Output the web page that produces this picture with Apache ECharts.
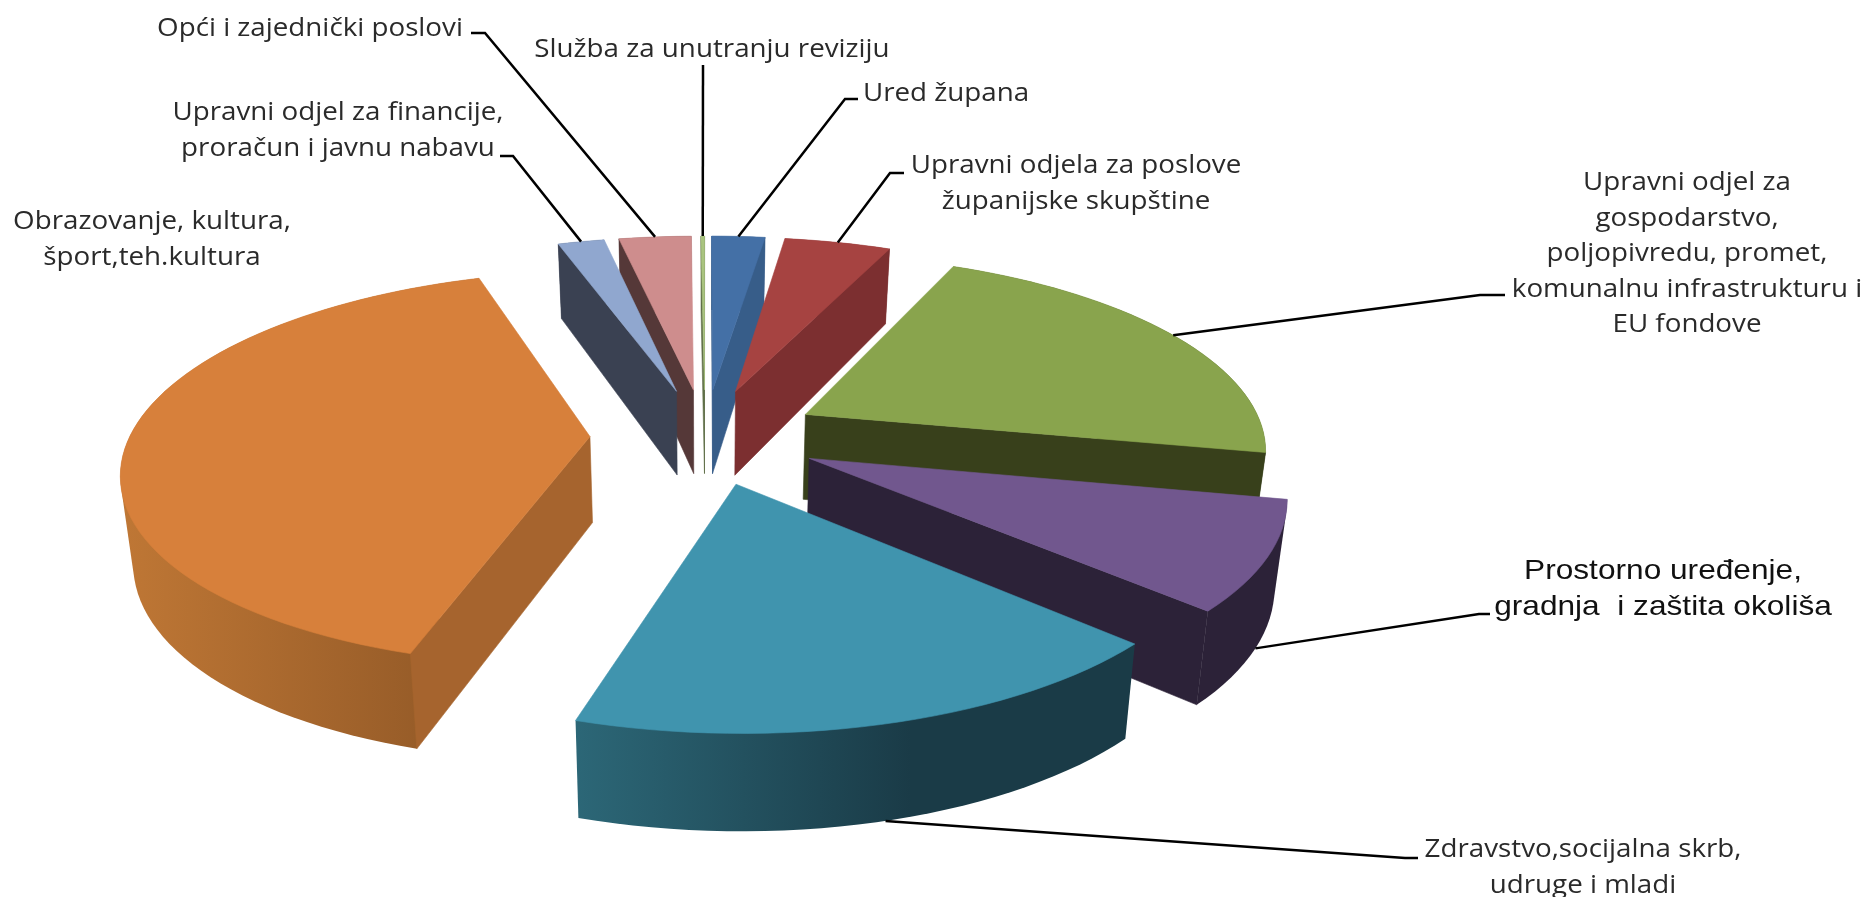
<!DOCTYPE html>
<html>
<head>
<meta charset="utf-8">
<style>html,body{margin:0;padding:0;background:#fff}#c{width:1866px;height:897px}</style>
<script src="https://cdn.jsdelivr.net/npm/echarts@6/dist/echarts.min.js"></script>
</head>
<body>
<div id="c"></div>
<script>
// ---- data (share of budget, %) ----
var categories = [
  'Ured župana',
  'Upravni odjela za poslove\nžupanijske skupštine',
  'Upravni odjel za\ngospodarstvo,\npoljopivredu, promet,\nkomunalnu infrastrukturu i\nEU fondove',
  'Prostorno uređenje,\ngradnja  i zaštita okoliša',
  'Zdravstvo,socijalna skrb,\nudruge i mladi',
  'Obrazovanje, kultura,\nšport,teh.kultura',
  'Upravni odjel za financije,\nproračun i javnu nabavu',
  'Opći i zajednički poslovi',
  'Služba za unutranju reviziju'
];
var values = [2.22, 4.44, 21.53, 8.75, 17.78, 40.17, 1.94, 3.02, 0.15];

// ---- styling ----
var topColors = ['#4470a6','#a64341','#89a44d','#71578e','#4094ae','#d7803b','#90a7cf','#ce8d8d','#a9c47f'];
var cutColors = ['#375d89','#7c2f30','#38401b','#2c2238','#1a3b47','#a6642e','#3a4152','#553838','#5f6f48'];
var rimColors = [
  ['#375d89','#375d89'],['#7c2f30','#7c2f30'],['#38401b','#38401b'],['#2c2238','#2c2238'],
  ['#2c6777','#1a3b47'],['#bf7735','#8f5726'],['#3a4152','#3a4152'],['#553838','#553838'],['#5f6f48','#5f6f48']
];
var labelCentres = [[946,94],[1076,184],[1687,254],[1663,589],[1583,868],[152,240],[338,131],[310,29],[712,50]];
var leaderEnds = [
  [[845,99],[858,99]], [[890,173],[904,173]], [[1480,295],[1505,295]], [[1479,614],[1490,614]],
  [[1405,858],[1418,858]], null, [[513,156],[500,156]], [[485,33],[471,33]], [[703,65]]
];
var leaderOnBottom = [false,false,false,true,true,false,false,false,false];

// ---- projection of the 3D pie ----
var CX = 705, CY = 436, SX = 460, SY = 192, PERSP = 0.16, EXPLODE = 0.25, CONVERGE = 0.978;
function project(X, Y, bottom) {
  var w = 1 + PERSP * Y;
  var x = CX + SX * X / w, y = CY - SY * Y / w;
  if (bottom) { x = CX + (x - CX) * CONVERGE; y += 86 + 60 * (1 - w); }
  return [x, y];
}
function hull(pts) {
  var s = pts.slice().sort(function (a, b) { return a[0] - b[0] || a[1] - b[1]; });
  var cross = function (o, a, b) { return (a[0]-o[0])*(b[1]-o[1]) - (a[1]-o[1])*(b[0]-o[0]); };
  var lo = [], up = [];
  s.forEach(function (p) {
    while (lo.length > 1 && cross(lo[lo.length-2], lo[lo.length-1], p) <= 0) lo.pop();
    lo.push(p);
  });
  s.slice().reverse().forEach(function (p) {
    while (up.length > 1 && cross(up[up.length-2], up[up.length-1], p) <= 0) up.pop();
    up.push(p);
  });
  lo.pop(); up.pop();
  return lo.concat(up);
}
function signedArea(pts) {
  var a = 0;
  pts.forEach(function (p, i) {
    var q = pts[(i + 1) % pts.length];
    a += p[0] * q[1] - q[0] * p[1];
  });
  return a / 2;
}
var total = values.reduce(function (a, b) { return a + b; }, 0);
var spans = [], acc = 0;
values.forEach(function (v) { var s = acc / total * 360; acc += v; spans.push([s, acc / total * 360]); });
var rad = function (d) { return d * Math.PI / 180; };

// back-to-front painting order
var orderRank = {};
values.map(function (v, i) { return i; })
  .sort(function (a, b) {
    return Math.cos(rad((spans[b][0] + spans[b][1]) / 2)) - Math.cos(rad((spans[a][0] + spans[a][1]) / 2));
  })
  .forEach(function (i, r) { orderRank[i] = r; });

function renderSlice(params, api) {
  var i = params.dataIndex;
  var a0 = spans[i][0], a1 = spans[i][1], mid = (a0 + a1) / 2;
  var ex = EXPLODE * Math.sin(rad(mid)), ey = EXPLODE * Math.cos(rad(mid));
  var n = Math.max(2, Math.ceil((a1 - a0) / 2));
  var rim = [];
  for (var k = 0; k <= n; k++) {
    var t = rad(a0 + (a1 - a0) * k / n);
    rim.push([ex + Math.sin(t), ey + Math.cos(t)]);
  }
  var apex = [ex, ey];
  var P = function (p, b) { return project(p[0], p[1], b); };
  var base = orderRank[i] * 10;
  var poly = function (pts, fill, z) {
    return { type: 'polygon', silent: true, z2: base + z, shape: { points: pts },
      style: { fill: fill, stroke: typeof fill === 'string' ? fill : null, lineWidth: 0.6 } };
  };
  var quad = function (p, q) { return [P(p), P(q), P(q, true), P(p, true)]; };
  var first = rim[0], last = rim[rim.length - 1];
  var rimPts = hull(rim.map(function (p) { return P(p); }).concat(rim.map(function (p) { return P(p, true); })));
  var rc = rimColors[i];
  var rimFill = { type: 'linear', x: 0, y: 0, x2: 1, y2: 0,
    colorStops: [{ offset: 0, color: rc[0] }, { offset: 0.6, color: i === 4 ? rc[1] : rc[0] }, { offset: 1, color: rc[1] }] };
  if (i === 5) rimFill.colorStops = [{ offset: 0, color: rc[0] }, { offset: 1, color: rc[1] }];
  var children = [poly(rimPts, rimFill, 1)];
  // the two cut faces, only when they face the viewer
  [quad(apex, first), quad(last, apex)].forEach(function (q, j) {
    if (signedArea(q) < 0) children.push(poly(q, cutColors[i], 2 + j));
  });
  children.push(poly([P(apex)].concat(rim.map(function (p) { return P(p); })), topColors[i], 4));
  // leader line from the rim at the slice's middle angle
  if (leaderEnds[i]) {
    var m = rad(mid);
    var start = project(ex + Math.sin(m), ey + Math.cos(m), leaderOnBottom[i]);
    children.push({ type: 'polyline', silent: true, z2: 200,
      shape: { points: [start].concat(leaderEnds[i]) },
      style: { stroke: '#000', lineWidth: 2.5, fill: null } });
  }
  var arial = i === 3;
  children.push({ type: 'text', silent: true, z2: 201,
    x: labelCentres[i][0], y: labelCentres[i][1],
    scaleX: arial ? 1.13 : 1.11, scaleY: 1,
    style: { text: categories[i], x: 0, y: 0,
      align: 'center', verticalAlign: 'middle',
      fill: arial ? '#111' : '#2a2a2a',
      font: (arial ? '28px "Liberation Sans"' : '25px "Open Sans"'),
      lineHeight: arial ? 36 : 35.4 } });
  return { type: 'group', children: children };
}

var chart = echarts.init(document.getElementById('c'), null, { renderer: 'canvas' });
chart.setOption({
  animation: false,
  backgroundColor: '#fff',
  series: [{
    type: 'custom',
    coordinateSystem: 'none',
    renderItem: renderSlice,
    data: categories.map(function (name, i) { return { name: name, value: values[i] }; })
  }]
});
</script>
</body>
</html>
